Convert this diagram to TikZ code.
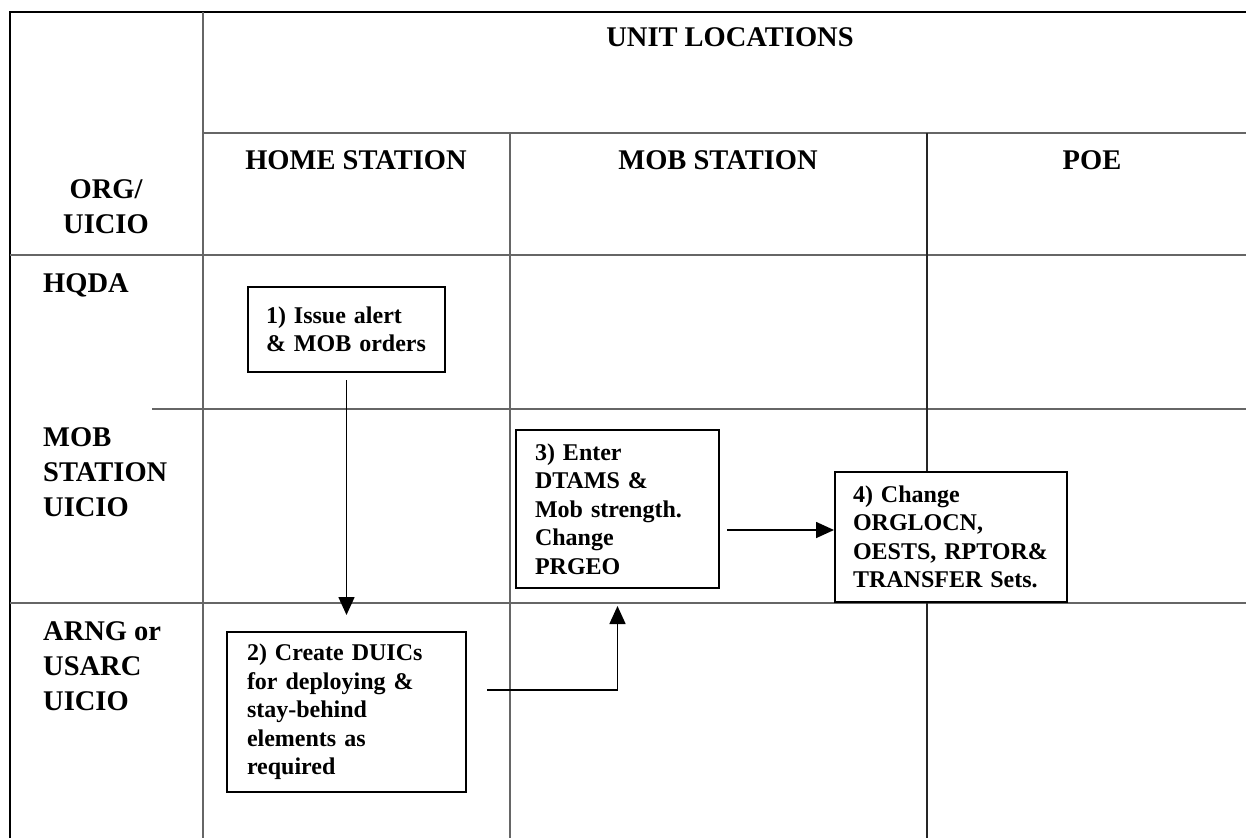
\documentclass[tikz,border=0pt]{standalone}
\usepackage{fontspec}
\setmainfont{Liberation Serif}
\usetikzlibrary{arrows.meta}

\newcommand\hdfont{\fontsize{28.5}{35}\selectfont\bfseries}
\newcommand\boxfont{\fontsize{24}{28.5}\selectfont\bfseries}

\tikzset{
  outerline/.style={black, line width=2.5pt},
  rule/.style={black!60, line width=1.2pt},
  stepbox/.style={draw, fill=white, line width=2pt, align=left, inner ysep=0pt, font=\boxfont},
  flow/.style={-{Triangle[length=18pt,width=16pt]}, line width=1.6pt},
}

\begin{document}
\begin{tikzpicture}[x=1pt,y=-1pt]
    \useasboundingbox (0,0) rectangle (1246,838);

    % table
    \draw[outerline] (10,838) -- (10,12) -- (1246,12);
    \draw[rule] (203,12) -- (203,838);
    \draw[rule] (203,133) -- (1246,133);
    \draw[rule] (10,255) -- (1246,255);
    \draw[rule] (152,409) -- (1246,409);
    \draw[rule] (10,603) -- (1246,603);
    \draw[rule] (510,133) -- (510,838);
    \draw[rule, black!85] (927,133) -- (927,838);

    % headings
    \node[font=\hdfont] (locations) at (730,37){UNIT LOCATIONS};
    \node[font=\hdfont] (home) at (356,160){HOME STATION};
    \node[font=\hdfont] (mob) at (718,160){MOB STATION};
    \node[font=\hdfont] (poe) at (1092,160){POE};
    \node[font=\hdfont, align=center] (org) at (106,207){ORG/\\UICIO};
    \node[font=\hdfont, anchor=west, inner sep=0pt] (hqda) at (43,285){HQDA};
    \node[font=\hdfont, anchor=west, align=left, inner sep=0pt] (mobuicio) at (43,472){MOB\\STATION\\UICIO};
    \node[font=\hdfont, anchor=west, align=left, inner sep=0pt] (arng) at (43,666){ARNG or\\USARC\\UICIO};

    % steps
    \node[stepbox, text width=161pt, inner xsep=18pt, minimum height=85pt] (s1) at (346.5,329.5){1) Issue alert\\\& MOB orders};
    \node[stepbox, text width=199pt, inner xsep=20pt, minimum height=160pt] (s2) at (346.5,712){2) Create DUICs\\for deploying \&\\stay-behind\\elements as\\required};
    \node[stepbox, text width=165pt, inner xsep=19pt, minimum height=158pt] (s3) at (617.5,509){3) Enter\\DTAMS \&\\Mob strength.\\Change\\PRGEO};
    \node[stepbox, text width=196pt, inner xsep=18pt, minimum height=130pt] (s4) at (951,537){4) Change\\ORGLOCN,\\OESTS, RPTOR\&\\TRANSFER Sets.};

    \draw[flow, shorten <=7pt, shorten >=16pt] (s1.south) -- (s1.south |- s2.north);
    \draw[flow, shorten >=17pt] ([xshift=20pt,yshift=22pt]s2.east) -| (s3.south);
    \draw[flow] ([xshift=7pt,yshift=-21pt]s3.east) coordinate (a34) -- (a34 -| s4.west);
\end{tikzpicture}
\end{document}
